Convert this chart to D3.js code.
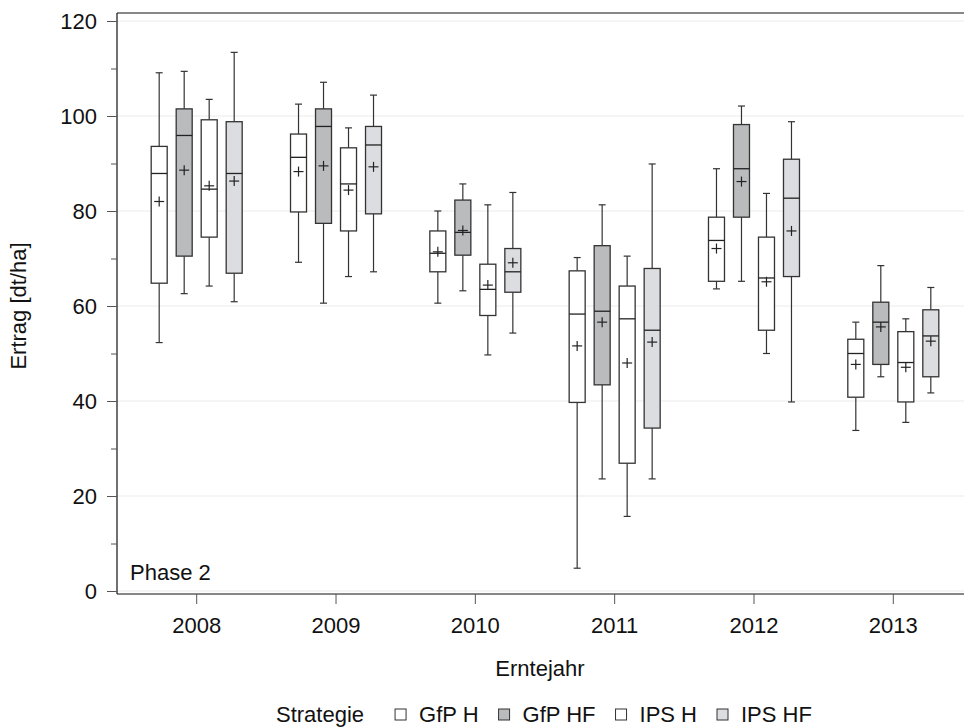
<!DOCTYPE html>
<html>
<head>
<meta charset="utf-8">
<script src="https://cdn.jsdelivr.net/npm/d3@7"></script>
<style>
  html, body { margin: 0; padding: 0; background: #fff; }
  svg { display: block; font-family: "Liberation Sans", Arial, sans-serif; }
</style>
</head>
<body>
<svg id="chart" width="964" height="727"></svg>
<script>
// ---- Data ----
const years = ["2008", "2009", "2010", "2011", "2012", "2013"];
const strategies = ["GfP H", "GfP HF", "IPS H", "IPS HF"];
const fills = ["#ffffff", "#b9bbbd", "#ffffff", "#dcdde0"];

// each row: one strategy, values for 2008..2013
const whiskerLow = [
  [52.3, 69.2, 60.6, 4.8, 63.6, 33.8],
  [62.6, 60.6, 63.2, 23.6, 65.2, 45.1],
  [64.2, 66.2, 49.7, 15.7, 50.0, 35.5],
  [60.9, 67.2, 54.3, 23.6, 39.8, 41.7]
];
const quartile1 = [
  [64.8, 79.8, 67.2, 39.7, 65.2, 40.8],
  [70.5, 77.4, 70.7, 43.4, 78.7, 47.7],
  [74.5, 75.8, 58.0, 26.9, 54.9, 39.8],
  [66.9, 79.4, 62.9, 34.3, 66.2, 45.1]
];
const medians = [
  [87.9, 91.3, 71.1, 58.3, 73.8, 50.0],
  [95.9, 97.8, 75.5, 58.9, 88.9, 56.6],
  [84.6, 85.7, 63.5, 57.3, 65.9, 48.1],
  [87.9, 93.9, 67.2, 54.9, 82.7, 53.7]
];
const quartile3 = [
  [93.6, 96.2, 75.8, 67.4, 78.7, 53.0],
  [101.5, 101.5, 82.3, 72.7, 98.2, 60.8],
  [99.2, 93.3, 68.8, 64.2, 74.5, 54.6],
  [98.8, 97.8, 72.1, 67.9, 90.9, 59.2]
];
const whiskerHigh = [
  [109.1, 102.5, 80.0, 70.2, 88.9, 56.6],
  [109.4, 107.1, 85.7, 81.3, 102.1, 68.5],
  [103.5, 97.5, 81.3, 70.5, 83.7, 57.3],
  [113.4, 104.4, 83.9, 89.9, 98.8, 63.9]
];
const means = [
  [82.0, 88.3, 71.4, 51.6, 72.1, 47.7],
  [88.6, 89.5, 75.9, 56.6, 86.2, 55.6],
  [85.3, 84.4, 64.4, 48.0, 65.1, 47.1],
  [86.3, 89.3, 69.1, 52.4, 75.8, 52.6]
];
const yMajorTicks = [0, 20, 40, 60, 80, 100, 120];
const yMinorTicks = [10, 30, 50, 70, 90, 110];

// ---- Layout ----
const svg = d3.select("#chart");
const left = 117, right = 973, frameTop = 13, frameBottom = 594;
const FONT = 22;

const y = d3.scaleLinear().domain([0, 120]).range([591, 21]);
const x = d3.scaleBand().domain(years).range([left, right]).paddingInner(0).paddingOuter(0.072);
const xs = d3.scaleBand().domain(strategies).range([-50, 50]);
const boxW = 16, capW = 7, plusW = 10;
const lineCol = "#333";

// gridlines
svg.append("g").selectAll("line").data(yMajorTicks).join("line")
  .attr("x1", left).attr("x2", 964)
  .attr("y1", d => y(d)).attr("y2", d => y(d))
  .attr("stroke", "#ebebeb").attr("stroke-width", 1);

// frame
svg.append("line").attr("x1", left).attr("x2", 964).attr("y1", frameTop).attr("y2", frameTop)
  .attr("stroke", "#111").attr("stroke-width", 1.2);

// boxes
const boxes = [];
strategies.forEach((s, si) => {
  years.forEach((yr, yi) => {
    boxes.push({
      s, si, yr,
      cx: x(yr) + x.bandwidth() / 2 + xs(s) + xs.bandwidth() / 2,
      lo: whiskerLow[si][yi], q1: quartile1[si][yi], med: medians[si][yi],
      q3: quartile3[si][yi], hi: whiskerHigh[si][yi], mean: means[si][yi]
    });
  });
});

const g = svg.append("g");
const bg = g.selectAll("g.box").data(boxes).join("g").attr("class", "box");
// whiskers
bg.append("line").attr("x1", d => d.cx).attr("x2", d => d.cx)
  .attr("y1", d => y(d.q3)).attr("y2", d => y(d.hi)).attr("stroke", lineCol).attr("stroke-width", 1.2);
bg.append("line").attr("x1", d => d.cx).attr("x2", d => d.cx)
  .attr("y1", d => y(d.q1)).attr("y2", d => y(d.lo)).attr("stroke", lineCol).attr("stroke-width", 1.2);
bg.append("line").attr("x1", d => d.cx - capW / 2).attr("x2", d => d.cx + capW / 2)
  .attr("y1", d => y(d.hi)).attr("y2", d => y(d.hi)).attr("stroke", lineCol).attr("stroke-width", 1.2);
bg.append("line").attr("x1", d => d.cx - capW / 2).attr("x2", d => d.cx + capW / 2)
  .attr("y1", d => y(d.lo)).attr("y2", d => y(d.lo)).attr("stroke", lineCol).attr("stroke-width", 1.2);
// box
bg.append("rect").attr("x", d => d.cx - boxW / 2).attr("width", boxW)
  .attr("y", d => y(d.q3)).attr("height", d => y(d.q1) - y(d.q3))
  .attr("fill", d => fills[d.si]).attr("stroke", lineCol).attr("stroke-width", 1.3);
// median
bg.append("line").attr("x1", d => d.cx - boxW / 2).attr("x2", d => d.cx + boxW / 2)
  .attr("y1", d => y(d.med)).attr("y2", d => y(d.med)).attr("stroke", "#222").attr("stroke-width", 1.3);
// mean plus
bg.append("line").attr("x1", d => d.cx - plusW / 2).attr("x2", d => d.cx + plusW / 2)
  .attr("y1", d => y(d.mean)).attr("y2", d => y(d.mean)).attr("stroke", "#222").attr("stroke-width", 1.2);
bg.append("line").attr("x1", d => d.cx).attr("x2", d => d.cx)
  .attr("y1", d => y(d.mean) - plusW / 2).attr("y2", d => y(d.mean) + plusW / 2).attr("stroke", "#222").attr("stroke-width", 1.2);

// y axis
const yAxis = svg.append("g").attr("transform", `translate(${left},0)`)
  .call(d3.axisLeft(y).tickValues(yMajorTicks).tickSize(10).tickPadding(10).tickFormat(d3.format("d")));
yAxis.select(".domain").attr("d", `M0,${frameTop}V${frameBottom}`).attr("stroke", "#111").attr("stroke-width", 1.2);
yAxis.selectAll(".tick line").attr("stroke", "#555");
yAxis.selectAll(".tick text").attr("font-size", FONT).attr("font-family", "Liberation Sans, Arial, sans-serif").attr("fill", "#111");
const yMinor = svg.append("g").attr("transform", `translate(${left},0)`)
  .call(d3.axisLeft(y).tickValues(yMinorTicks).tickSize(6).tickFormat(""));
yMinor.select(".domain").remove();
yMinor.selectAll(".tick line").attr("stroke", "#555");

// x axis
const xAxis = svg.append("g").attr("transform", `translate(0,${frameBottom})`)
  .call(d3.axisBottom(x).tickSize(10).tickPadding(13));
xAxis.select(".domain").attr("d", `M${left},0H964`).attr("stroke", "#111").attr("stroke-width", 1.2);
xAxis.selectAll(".tick line").attr("stroke", "#555");
xAxis.selectAll(".tick text").attr("font-size", FONT).attr("font-family", "Liberation Sans, Arial, sans-serif").attr("fill", "#111");

// Phase 2 label
svg.append("text").attr("x", 130).attr("y", 580).attr("font-size", FONT).attr("fill", "#111").text("Phase 2");

// axis titles
svg.append("text").attr("x", 540).attr("y", 676).attr("text-anchor", "middle")
  .attr("font-size", FONT).attr("fill", "#111").text("Erntejahr");
svg.append("text").attr("transform", "translate(26,306) rotate(-90)").attr("text-anchor", "middle")
  .attr("font-size", FONT).attr("fill", "#111").text("Ertrag [dt/ha]");

// legend
const leg = svg.append("g");
const legY = 722;
let lx = 276;
const t0 = leg.append("text").attr("x", lx).attr("y", legY).attr("font-size", FONT).attr("fill", "#111").text("Strategie");
lx += t0.node().getComputedTextLength() + 31;
strategies.forEach((s, i) => {
  leg.append("rect").attr("x", lx).attr("y", legY - 13).attr("width", 11).attr("height", 11)
    .attr("fill", fills[i]).attr("stroke", lineCol).attr("stroke-width", 1);
  const t = leg.append("text").attr("x", lx + 24).attr("y", legY).attr("font-size", FONT).attr("fill", "#111").text(s);
  lx += 24 + t.node().getComputedTextLength() + 20;
});
</script>
</body>
</html>
